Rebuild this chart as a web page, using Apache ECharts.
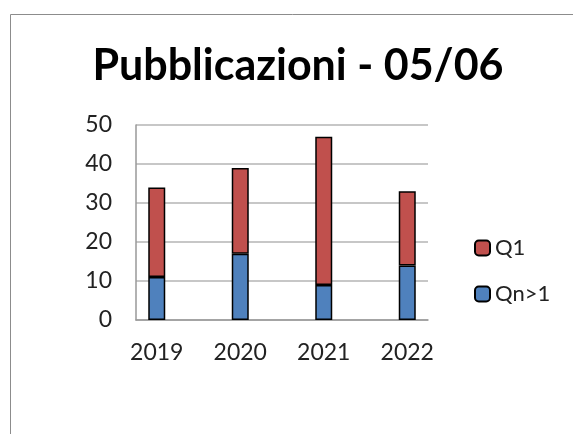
<!DOCTYPE html>
<html>
<head>
<meta charset="utf-8">
<script src="https://cdn.jsdelivr.net/npm/echarts@6/dist/echarts.min.js"></script>
<style>
  html, body { margin: 0; padding: 0; background: #fff; }
  #chart { width: 573px; height: 434px; }
</style>
</head>
<body>
<div id="chart"></div>
<script type="text/javascript">
	// dati
	var years = ['2019', '2020', '2021', '2022'];
	var qn1 = [11, 17, 9, 14];   // Qn>1 (base)
	var q1 = [23, 22, 38, 19];   // Q1 (sopra)

	var font = 'Lato, "Open Sans", sans-serif';
	var myChart = echarts.init(document.getElementById('chart'));
	var option = {
		backgroundColor: '#fff',
		animation: false,
		title: {
			text: 'Pubblicazioni - 05/06',
			left: 293,
			textAlign: 'center',
			top: 40,
			textStyle: { fontFamily: font, fontWeight: 'bold', fontSize: 43, color: '#000' }
		},
		graphic: [{
			type: 'rect',
			shape: { x: 10.5, y: 14.5, width: 600, height: 500 },
			style: { fill: 'none', stroke: '#8c8c8c', lineWidth: 1 },
			silent: true
		}],
		legend: {
			orient: 'vertical',
			left: 469,
			top: 232,
			itemWidth: 15,
			itemHeight: 15,
			itemGap: 24,
			data: ['Q1', 'Qn>1'],
			textStyle: { fontFamily: font, fontSize: 22, color: '#222' }
		},
		// griglia 0: assi e linee; griglia 1: barre (come nel grafico originale, spostate a sinistra)
		grid: [
			{ left: 136, top: 125, width: 292, height: 195 },
			{ left: 115, top: 125, width: 334, height: 195 }
		],
		xAxis: [
			{
				type: 'category', gridIndex: 0,
				data: years,
				axisLine: { lineStyle: { color: '#999', width: 1.5 } },
				axisTick: { show: false },
				axisLabel: { show: false }
			},
			{
				type: 'category', gridIndex: 1,
				data: years,
				axisLine: { show: false },
				axisTick: { show: false },
				axisLabel: { fontFamily: font, fontSize: 23, color: '#222', margin: 21 }
			}
		],
		yAxis: [
			{
				type: 'value', gridIndex: 0,
				min: 0, max: 50, interval: 10,
				axisLine: { show: true, lineStyle: { color: '#999', width: 1.5 } },
				axisTick: { show: false },
				splitLine: { lineStyle: { color: '#b5b5b5', width: 1.5 } },
				axisLabel: { fontFamily: font, fontSize: 23, color: '#222', margin: 24 }
			},
			{
				type: 'value', gridIndex: 1,
				min: 0, max: 50, interval: 10,
				show: false
			}
		],
		series: [
			{
				name: 'Qn>1', type: 'bar', stack: 'tot', barWidth: 17,
				xAxisIndex: 1, yAxisIndex: 1,
				data: qn1,
				itemStyle: { color: '#4F81BD', borderColor: '#000', borderWidth: 1.5 }
			},
			{
				name: 'Q1', type: 'bar', stack: 'tot', barWidth: 17,
				xAxisIndex: 1, yAxisIndex: 1,
				data: q1,
				itemStyle: { color: '#C0504D', borderColor: '#000', borderWidth: 1.5 }
			}
		]
	};
	myChart.setOption(option);
</script>
</body>
</html>
